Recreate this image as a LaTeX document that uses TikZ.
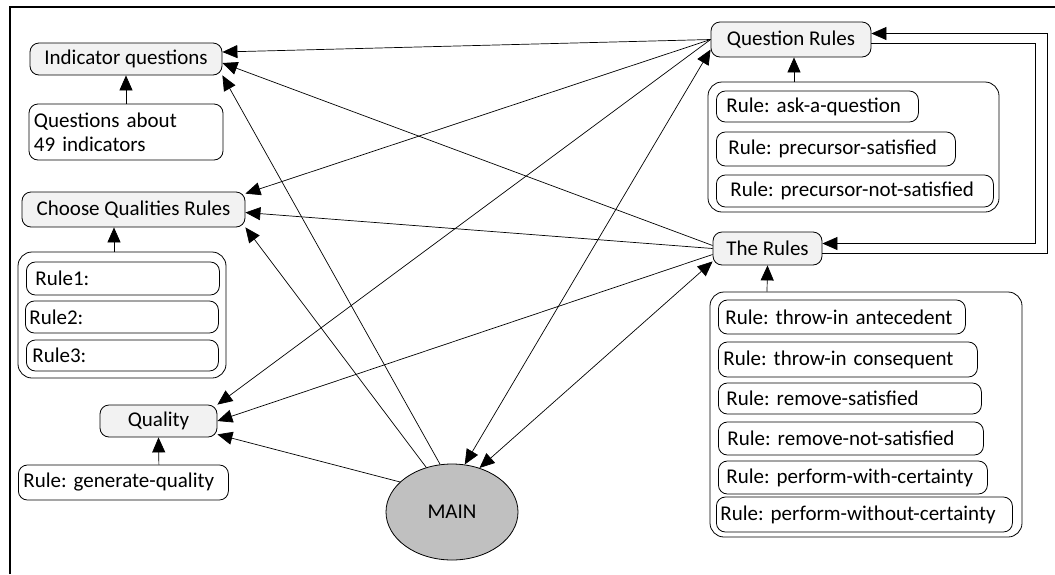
\documentclass[tikz,border=0pt]{standalone}
\usepackage{fontspec}
\setmainfont{Carlito}
\usetikzlibrary{arrows.meta,shapes.geometric}
\definecolor{hdrgray}{HTML}{F2F2F2}
\definecolor{maingray}{HTML}{C0C0C0}
\frenchspacing
\begin{document}
\begin{tikzpicture}[x=1pt,y=-1pt,
  every node/.style={font=\fontsize{21}{24}\selectfont},
  hdr/.style={draw, fill=hdrgray, rounded corners=9pt, inner sep=0pt, line width=0.8pt},
  box/.style={draw, fill=white, rounded corners=9pt, anchor=west, align=left, inner xsep=0pt, inner ysep=0pt, line width=0.8pt},
  holder/.style={draw, rounded corners=14pt, inner sep=0pt, line width=0.8pt},
  arr/.style={-{Triangle[length=15pt,width=13pt]}, line width=0.7pt},
  darr/.style={{Triangle[length=15pt,width=13pt]}-{Triangle[length=15pt,width=13pt]}, line width=0.7pt}]

\useasboundingbox (0,0) rectangle (1055,574);
\draw[line width=2.8pt] (10,574) -- (10,7) -- (1055,7);

% left column
\node[hdr, minimum width=192pt, minimum height=32pt] (IQ) at (126,59) {Indicator questions};
\node[box, anchor=center, inner xsep=5pt, text width=184pt, minimum height=56pt] (QA) at (126,132) {Questions about\\49 indicators};
\node[hdr, minimum width=223pt, minimum height=35pt] (CQR) at (133.5,209.5) {Choose Qualities Rules};
\node[holder, minimum width=208pt, minimum height=126pt] (C1) at (122,315) {};
\node[box, minimum height=33pt, text width=193pt] (R1) at (26,278.5) {\hspace*{9pt}Rule1:};
\node[box, minimum height=32pt, text width=193pt] (R2) at (25,317) {\hspace*{4pt}Rule2:};
\node[box, minimum height=31pt, text width=192pt] (R3) at (26,355.5) {\hspace*{6pt}Rule3:};
\node[hdr, minimum width=117pt, minimum height=32pt] (Q) at (158.5,421) {Quality};
\node[box, minimum height=35pt, text width=210pt] (GQ) at (18,482.5) {\hspace*{5pt}Rule: generate-quality};

% main
\node[ellipse, draw, fill=maingray, minimum width=132pt, minimum height=96pt, inner sep=0pt, line width=0.8pt] (MAIN) at (452,512) {MAIN};

% right column
\node[hdr, minimum width=160pt, minimum height=35pt] (QR) at (791,39.5) {Question Rules};
\node[holder, minimum width=291pt, minimum height=130pt] (C2) at (853.5,147) {};
\node[box, minimum height=31pt, text width=202pt] (ask) at (716,106.5) {\hspace*{10pt}Rule: ask-a-question};
\node[box, minimum height=34pt, text width=239pt] (ps) at (716,149) {\hspace*{12pt}Rule: precursor-satisfied};
\node[box, minimum height=32pt, text width=277pt] (pns) at (716,191) {\hspace*{14pt}Rule: precursor-not-satisfied};

\node[hdr, minimum width=109pt, minimum height=33pt] (TR) at (767.5,248.5) {The Rules};
\node[holder, minimum width=312pt, minimum height=245pt] (C3) at (866,414.5) {};
\node[box, minimum height=34pt, text width=247pt] (ta) at (718,317) {\hspace*{7pt}Rule: throw-in antecedent};
\node[box, minimum height=35pt, text width=259pt] (tc) at (718,359.5) {\hspace*{5pt}Rule: throw-in consequent};
\node[box, minimum height=31pt, text width=263pt] (rs) at (718,398.5) {\hspace*{8pt}Rule: remove-satisfied};
\node[box, minimum height=33pt, text width=265pt] (rns) at (718,438.5) {\hspace*{9pt}Rule: remove-not-satisfied};
\node[box, minimum height=33pt, text width=269pt] (pwc) at (718,477.5) {\hspace*{8pt}Rule: perform-with-certainty};
\node[box, minimum height=35pt, text width=296pt] (pwoc) at (716,514.5) {\hspace*{4pt}Rule: perform-without-certainty};

% short connectors
\draw[arr] (QA.north) -- (IQ.south);
\draw[arr] ([xshift=-8pt]C1.north) -- ([xshift=-19.5pt]CQR.south);
\draw[arr] ([xshift=35.5pt]GQ.north) -- (Q.south);
\draw[arr] ([xshift=-59.5pt]C2.north) -- ([xshift=3pt]QR.south);
\draw[arr] ([xshift=-99pt]C3.north) -- (TR.south);

% fan connectors
\draw[arr] (QR.west) -- ([yshift=7pt]IQ.east);
\draw[arr] (QR.west) -- ([yshift=-2pt]CQR.north east);
\draw[arr] (QR.west) -- (Q.north east);
\draw[darr] (MAIN.75) -- ([yshift=-10pt]QR.west);
\draw[darr] (MAIN.58) -- ([yshift=4pt]TR.south west);
\draw[arr] ([yshift=3pt]TR.west) -- ([yshift=-4pt]IQ.east);
\draw[arr] (TR.west) -- ([yshift=-3pt]CQR.east);
\draw[arr] ([yshift=-6pt]TR.west) -- (Q.east);
\draw[arr] (MAIN.104) -- (IQ.south east);
\draw[arr] (MAIN.120) -- (CQR.south east);
\draw[arr] (MAIN.150) -- ([yshift=3pt]Q.south east);

% loops on the right
\draw[arr] ([yshift=-4pt]QR.east) -- ++(164,0) |- ([yshift=5pt]TR.east);
\draw[arr] ([yshift=-5pt]TR.east) -- ++(225,0) |- ([yshift=6pt]QR.east);
\end{tikzpicture}
\end{document}
